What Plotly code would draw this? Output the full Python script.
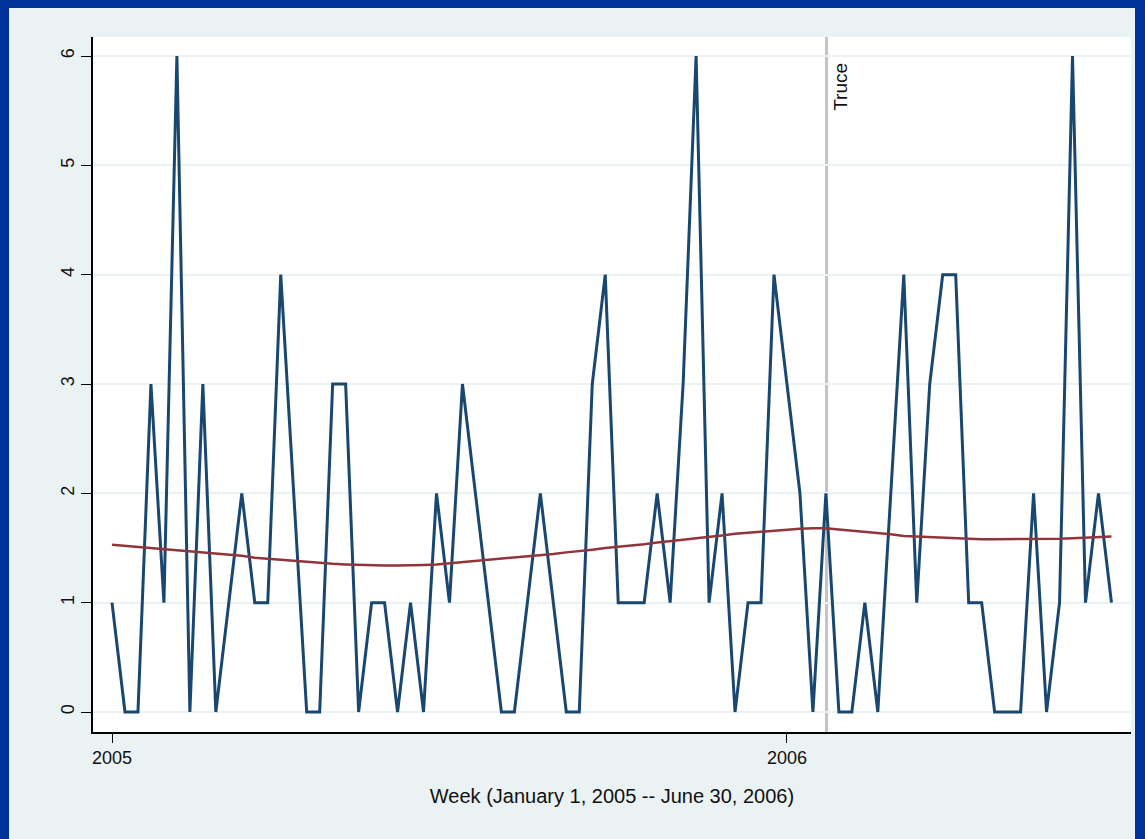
import plotly.graph_objects as go

# ---- data (weekly, 2005w1 .. 2006w26) ----
week = list(range(78))
incidents = [1, 0, 0, 3, 1, 6, 0, 3, 0, 1,
             2, 1, 1, 4, 2, 0, 0, 3, 3, 0,
             1, 1, 0, 1, 0, 2, 1, 3, 2, 1,
             0, 0, 1, 2, 1, 0, 0, 3, 4, 1,
             1, 1, 2, 1, 3, 6, 1, 2, 0, 1,
             1, 4, 3, 2, 0, 2, 0, 0, 1, 0,
             2, 4, 1, 3, 4, 4, 1, 1, 0, 0,
             0, 2, 0, 1, 6, 1, 2, 1]
smooth = [1.53, 1.52, 1.51, 1.50, 1.49, 1.48, 1.47, 1.46, 1.45, 1.44,
          1.43, 1.41, 1.40, 1.39, 1.38, 1.37, 1.36, 1.355, 1.35, 1.345,
          1.34, 1.34, 1.34, 1.34, 1.345, 1.35, 1.36, 1.37, 1.38, 1.39,
          1.40, 1.41, 1.425, 1.435, 1.445, 1.46, 1.47, 1.485, 1.50, 1.51,
          1.52, 1.535, 1.55, 1.56, 1.575, 1.59, 1.60, 1.615, 1.63, 1.64,
          1.65, 1.66, 1.665, 1.675, 1.68, 1.68, 1.67, 1.66, 1.65, 1.64,
          1.625, 1.61, 1.605, 1.60, 1.59, 1.585, 1.58, 1.58, 1.58, 1.58,
          1.58, 1.58, 1.58, 1.585, 1.59, 1.595, 1.60, 1.605]
x_tick_vals = [0, 52]
x_tick_text = ["2005", "2006"]
y_tick_vals = [0, 1, 2, 3, 4, 5, 6]
truce_week = 55.05
truce_label = "Truce"
x_title = "Week (January 1, 2005 -- June 30, 2006)"

W, H = 1145, 839
L, R, T, B = 93, 1131, 37, 732

FONT = "Liberation Sans, Arial, Helvetica, sans-serif"
BG = "#EAF2F3"
NAVY = "#1A476F"
MAROON = "#90353B"
BORDER = "#003399"
TXT = "#111111"

fig = go.Figure()
fig.add_trace(go.Scatter(x=week, y=incidents, mode="lines",
                         line=dict(color=NAVY, width=3), hoverinfo="skip",
                         showlegend=False))
fig.add_trace(go.Scatter(x=week, y=smooth, mode="lines",
                         line=dict(color=MAROON, width=2.5), hoverinfo="skip",
                         showlegend=False))

# truce line
fig.add_shape(type="line", xref="x", yref="paper", x0=truce_week, x1=truce_week,
              y0=0, y1=1, line=dict(color="#C4C4C4", width=3), layer="below")
fig.add_annotation(x=truce_week + 1.05, y=5.72, xref="x", yref="y", text=truce_label,
                   textangle=-90, showarrow=False, xanchor="center", yanchor="middle",
                   font=dict(family=FONT, size=19, color=TXT))

# outer dark border (top, left, right)
pw = R - L
ph = B - T
def px_to_paper_x(px):
    return (px - L) / pw
def px_to_paper_y(py):
    return (B - py) / ph
border_rects = [(0, 0, W, 8), (0, 0, 9, H), (1135, 0, W, H)]
for x0, y0, x1, y1 in border_rects:
    fig.add_shape(type="rect", xref="paper", yref="paper",
                  x0=px_to_paper_x(x0), x1=px_to_paper_x(x1),
                  y0=px_to_paper_y(y1), y1=px_to_paper_y(y0),
                  line=dict(width=0), fillcolor=BORDER, layer="above")

fig.update_layout(
    width=W, height=H,
    margin=dict(l=L, r=W - R, t=T, b=H - B, pad=0),
    paper_bgcolor=BG, plot_bgcolor="white",
    font=dict(family=FONT, size=18, color=TXT),
    xaxis=dict(range=[(L - 112) / 12.98, (R - 112) / 12.98],
               tickmode="array", tickvals=x_tick_vals, ticktext=x_tick_text,
               showgrid=False, zeroline=False, showline=True, linecolor="#000000",
               linewidth=1.5, ticks="outside", ticklen=9, tickwidth=1.2,
               tickcolor="#000000", tickfont=dict(size=18),
               title=dict(text=x_title, font=dict(size=20), standoff=22)),
    yaxis=dict(range=[(712 - B) / 109.33, (712 - T) / 109.33],
               tickmode="array", tickvals=y_tick_vals,
               showgrid=True, gridcolor=BG, gridwidth=2, zeroline=False,
               showline=True, linecolor="#000000", linewidth=1.5,
               ticks="outside", ticklen=10, tickwidth=1.2, tickcolor="#000000",
               tickangle=-90, tickfont=dict(size=18), ticklabelstandoff=0),
)

fig.write_html("out.html", config={"displayModeBar": False},
               post_script="document.body.style.margin='0';")
